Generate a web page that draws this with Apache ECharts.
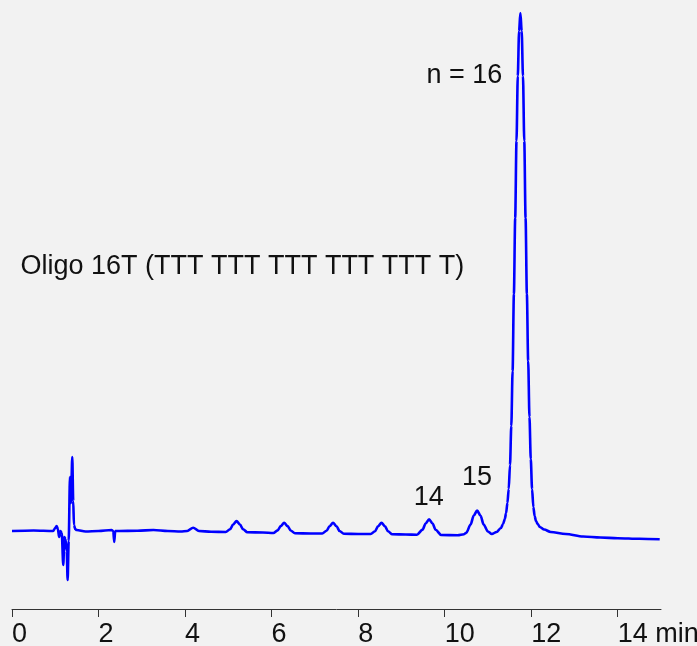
<!DOCTYPE html>
<html>
<head>
<meta charset="utf-8">
<script src="https://cdn.jsdelivr.net/npm/echarts@6/dist/echarts.min.js"></script>
<style>
  html, body { margin: 0; padding: 0; background: #f2f2f2; }
  #chart { width: 697px; height: 646px; }
</style>
</head>
<body>
<div id="chart"></div>
<script>
// Retention time (min)
var times = [
  0, 0.5, 0.95, 1.0, 1.03, 1.06, 1.09, 1.12, 1.15, 1.185, 1.21, 1.235, 1.265, 1.286, 1.31,
  1.34, 1.363, 1.393, 1.415, 1.432, 1.46, 1.494, 1.7, 2.0, 2.3, 2.34, 2.363, 2.385, 2.45,
  2.9, 3.27, 3.6, 3.9, 4.05, 4.187, 4.32, 4.6,
  4.94, 5.04, 5.11, 5.19, 5.27, 5.34, 5.44, 5.8,
  6.04, 6.14, 6.21, 6.29, 6.37, 6.44, 6.54, 6.9,
  7.17, 7.27, 7.34, 7.42, 7.50, 7.57, 7.67, 8.0,
  8.29, 8.39, 8.46, 8.54, 8.62, 8.69, 8.79, 9.1,
  9.36, 9.49, 9.56, 9.64, 9.72, 9.79, 9.92, 10.3,
  10.45, 10.5, 10.6, 10.67, 10.75, 10.83, 10.9, 11.0, 11.09,
  11.2, 11.3, 11.35, 11.39, 11.42, 11.45, 11.48, 11.51, 11.54, 11.57, 11.60, 11.63, 11.66, 11.69, 11.72,
  11.75, 11.78, 11.81, 11.84, 11.87, 11.90, 11.93, 11.96, 11.99, 12.02, 12.05, 12.08, 12.11, 12.15,
  12.2, 12.3, 12.45, 12.8, 13.2, 13.6, 14.0, 14.5, 14.97
];
// Detector signal (arbitrary units)
var signal = [
  0, 0.5, 0, 3, 5, 2, -6, 0, -2, -34, -6, -8, -20, -49, -10,
  54, 28, 74, 30, 6, 2, 1, -0.5, 0, 1, 0, -11, 0, 0,
  0.3, 1, 0, -0.5, 0, 3.3, 0, -0.7,
  -1, 1.75, 6.4, 10, 6.4, 1.75, -1.3, -1.5,
  -2, 0.6, 4.9, 8.3, 4.9, 0.5, -2.3, -2.5,
  -2.5, 0.2, 4.8, 8.3, 4.8, 0, -2.8, -3,
  -3, -0.2, 4.6, 8.3, 4.6, -0.3, -3.3, -3.5,
  -3.7, 1.4, 7.5, 11.7, 7.5, 1.2, -4, -4.2,
  -3.2, -1.7, 6.5, 15.2, 20.5, 15.2, 6.5, -0.5, -3,
  -1, 3, 7, 12, 18, 28, 42, 66, 105, 160, 237, 313, 390, 455, 500,
  518, 500, 455, 390, 313, 237, 170, 114, 72, 42, 24, 15, 10, 7,
  4, 1.5, -1, -3, -5.5, -6.5, -7.2, -7.8, -8.3
];
var xTickLabels = ['0', '2', '4', '6', '8', '10', '12', '14 min'];
var annotations = ['n = 16', 'Oligo 16T (TTT TTT TTT TTT TTT T)', '14', '15'];

var data = times.map(function (t, i) { return [t, signal[i]]; });
var FONT = 'Arial, "Liberation Sans", sans-serif';
var chart = echarts.init(document.getElementById('chart'), null, { renderer: 'canvas' });
chart.setOption({
  backgroundColor: '#f2f2f2',
  animation: false,
  grid: { left: 12, right: 36, top: 13, bottom: 37, containLabel: false, outerBoundsMode: 'none' },
  xAxis: {
    type: 'value', min: 0, max: 15, interval: 2,
    splitLine: { show: false },
    axisLine: { show: true, onZero: false, lineStyle: { color: '#333', width: 1 } },
    axisTick: { show: true, inside: false, length: 8, lineStyle: { color: '#333', width: 1 } },
    axisLabel: {
      show: true, margin: 12, align: 'left', fontSize: 27, color: '#111', fontFamily: FONT,
      showMaxLabel: false, hideOverlap: false,
      formatter: function (v) {
        var idx = Math.round(v / 2);
        return (v % 2 === 0 && idx < xTickLabels.length) ? xTickLabels[idx] : '';
      }
    }
  },
  yAxis: {
    type: 'value', min: -78, max: 518, show: false,
    splitLine: { show: false }
  },
  series: [{
    type: 'line',
    data: data,
    showSymbol: false,
    smooth: 0.3,
    smoothMonotone: 'x',
    lineStyle: { color: '#0000ff', width: 2.6 },
    z: 3
  }],
  graphic: [
    { type: 'text', x: 426.5, y: 76, style: { text: annotations[0], font: '27px ' + FONT, fill: '#111', verticalAlign: 'middle' } },
    { type: 'text', x: 20.4, y: 267, style: { text: annotations[1], font: '27px ' + FONT, fill: '#111', verticalAlign: 'middle' } },
    { type: 'text', x: 413.8, y: 498, style: { text: annotations[2], font: '27px ' + FONT, fill: '#111', verticalAlign: 'middle' } },
    { type: 'text', x: 462, y: 478, style: { text: annotations[3], font: '27px ' + FONT, fill: '#111', verticalAlign: 'middle' } }
  ]
});
</script>
</body>
</html>
